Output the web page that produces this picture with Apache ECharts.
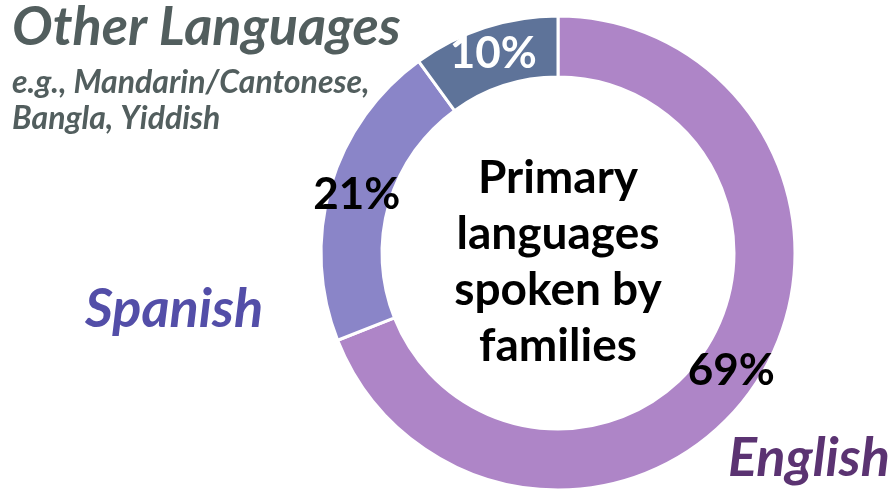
<!DOCTYPE html>
<html>
<head>
<meta charset="utf-8">
<script src="https://cdn.jsdelivr.net/npm/echarts@6/dist/echarts.min.js"></script>
<style>html,body{margin:0;padding:0;background:#fff}#c{width:896px;height:489px}</style>
</head>
<body>
<div id="c"></div>
<script>
const categories = ['English', 'Spanish', 'Other Languages'];
const values = [69, 21, 10];
const sliceColors = ['#AE85C7', '#8A85C8', '#5E7399'];
const labelColors = ['#000000', '#000000', '#FFFFFF'];
const centerText = 'Primary\nlanguages\nspoken by\nfamilies';

const chart = echarts.init(document.getElementById('c'));
const FONT = 'Lato, "Open Sans", sans-serif';
chart.setOption({
  animation: false,
  series: [{
    type: 'pie',
    center: [558, 253],
    radius: [176, 237],
    startAngle: 90,
    clockwise: true,
    silent: true,
    data: categories.map((n, i) => ({
      name: n, value: values[i],
      itemStyle: { color: sliceColors[i] },
      label: { color: labelColors[i] }
    })),
    itemStyle: { borderColor: '#fff', borderWidth: 3 },
    label: {
      show: true, position: 'inside',
      formatter: p => p.value + '%',
      fontFamily: FONT, fontWeight: 'bold', fontSize: 44
    },
    labelLine: { show: false }
  }],
  graphic: [
    { type: 'text', x: 558, y: 262, z: 10, style: { text: centerText, align: 'center', verticalAlign: 'middle', font: 'bold 46px ' + FONT, lineHeight: 56, fill: '#000' } },
    { type: 'text', x: 12, y: 28, style: { text: 'Other Languages', align: 'left', verticalAlign: 'middle', font: 'italic bold 54px ' + FONT, fill: '#525E5E' } },
    { type: 'text', x: 12, y: 101, style: { text: 'e.g., Mandarin/Cantonese,\nBangla, Yiddish', align: 'left', verticalAlign: 'middle', font: 'italic bold 32px ' + FONT, lineHeight: 36, fill: '#525E5E' } },
    { type: 'text', x: 85, y: 310, style: { text: 'Spanish', align: 'left', verticalAlign: 'middle', font: 'italic bold 54px ' + FONT, fill: '#534EA8' } },
    { type: 'text', x: 728, y: 459, style: { text: 'English', align: 'left', verticalAlign: 'middle', font: 'italic bold 54px ' + FONT, fill: '#5B3372' } }
  ]
});
</script>
</body>
</html>
